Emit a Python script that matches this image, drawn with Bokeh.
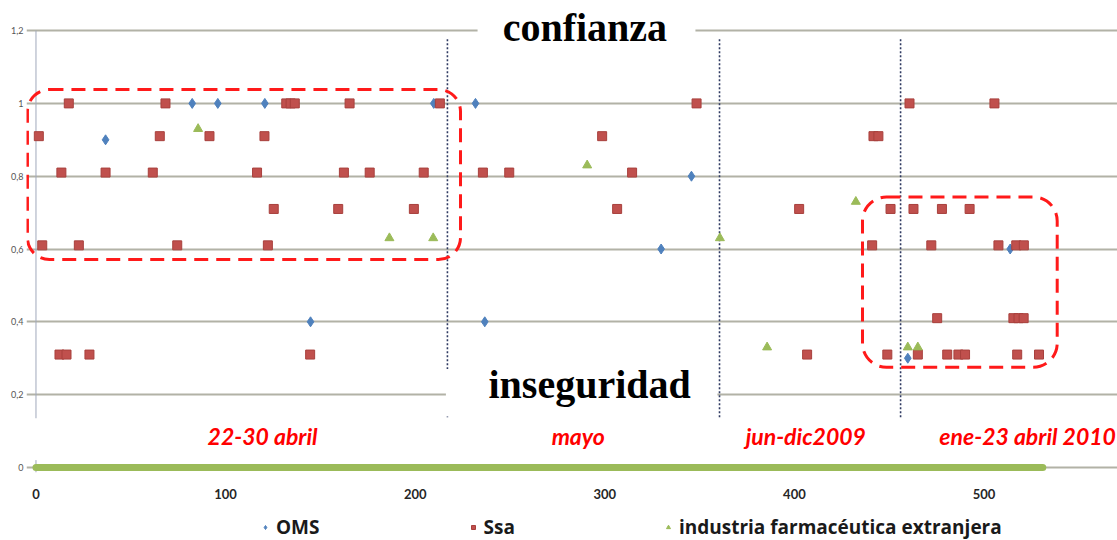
from bokeh.plotting import figure
from bokeh.layouts import column
from bokeh.models import Range1d, FixedTicker, BoxAnnotation, Label, Legend, LegendItem
from bokeh.embed import file_html
from bokeh.resources import INLINE

# ---------------- data ----------------
oms_x = [36.7, 82.4, 95.9, 120.7, 144.8, 209.8, 231.8, 236.7, 329.7, 345.7, 459.8, 513.8]
oms_y = [0.9, 1.0, 1.0, 1.0, 0.4, 1.0, 1.0, 0.4, 0.6, 0.8, 0.3, 0.6]

ssa_x_100 = [17.3, 68.3, 132.0, 134.3, 136.5, 165.4, 213.0, 348.4, 460.7, 505.5]
ssa_x_091 = [1.5, 65.3, 91.5, 120.5, 298.6, 441.7, 444.3]
ssa_x_081 = [13.4, 36.7, 61.6, 116.6, 162.4, 176.0, 204.5, 235.7, 249.6, 314.4]
ssa_x_071 = [125.4, 159.4, 199.3, 306.5, 402.5, 450.7, 462.8, 477.8, 492.4]
ssa_x_061 = [3.3, 22.6, 74.5, 122.3, 441.0, 472.2, 507.6, 517.0, 521.0]
ssa_x_041 = [475.3, 515.5, 518.2, 520.9]
ssa_x_031 = [12.4, 16.1, 28.2, 144.6, 406.7, 449.0, 465.1, 480.6, 486.5, 490.0, 517.5, 529.0]
ssa_x = ssa_x_100 + ssa_x_091 + ssa_x_081 + ssa_x_071 + ssa_x_061 + ssa_x_041 + ssa_x_031
ssa_y = ([1.0] * len(ssa_x_100) + [0.91] * len(ssa_x_091) + [0.81] * len(ssa_x_081)
         + [0.71] * len(ssa_x_071) + [0.61] * len(ssa_x_061) + [0.41] * len(ssa_x_041)
         + [0.31] * len(ssa_x_031))

ind_x = [85.5, 186.4, 209.5, 290.7, 360.7, 385.6, 432.4, 459.8, 465.1]
ind_y = [0.93, 0.63, 0.63, 0.83, 0.63, 0.33, 0.73, 0.33, 0.33]

# all series sit at 0 for the remaining news items (they form the green band)
zero_x = [0, 531]
zero_y = [0, 0]

period_labels = ["22-30 abril", "mayo", "jun-dic2009", "ene-23 abril 2010"]
period_centers = [119.5, 286.0, 406.0, 523.0]
period_bounds = [217.0, 360.5, 456.0]

y_ticks = [0, 0.2, 0.4, 0.6, 0.8, 1.0, 1.2]
y_tick_labels = ["0", "0,2", "0,4", "0,6", "0,8", "1", "1,2"]
x_ticks = [0, 100, 200, 300, 400, 500]

series_names = ["OMS", "Ssa", "industria farmacéutica extranjera"]

BLUE = "#4F81BD"
RED = "#C0504D"
GREEN = "#9BBB59"
FONT = "Lato"

# ---------------- main figure ----------------
p = figure(width=1117, height=505, output_backend="svg", toolbar_location=None,
           x_range=Range1d(-5.0, 570.4), y_range=Range1d(-0.014, 1.2827),
           min_border_left=26, min_border_right=0, min_border_top=0, min_border_bottom=33)
p.outline_line_color = None
p.background_fill_color = "white"
p.border_fill_color = "white"

p.xgrid.visible = False
p.ygrid.ticker = FixedTicker(ticks=y_ticks)
p.ygrid.grid_line_color = "#b2b2a6"
p.ygrid.grid_line_width = 2

p.yaxis.ticker = FixedTicker(ticks=y_ticks)
p.yaxis.major_label_overrides = {t: l for t, l in zip(y_ticks, y_tick_labels)}
p.yaxis.axis_line_color = None
p.yaxis.major_tick_line_color = None
p.yaxis.major_tick_out = 0
p.yaxis.major_tick_in = 0
p.yaxis.minor_tick_line_color = None
p.yaxis.major_label_standoff = 3
p.yaxis.major_label_text_font = FONT
p.yaxis.major_label_text_font_size = "9px"
p.yaxis.major_label_text_color = "#555555"

p.xaxis.ticker = FixedTicker(ticks=x_ticks)
p.xaxis.axis_line_color = None
p.xaxis.major_tick_line_color = None
p.xaxis.major_tick_out = 0
p.xaxis.major_tick_in = 0
p.xaxis.minor_tick_line_color = None
p.xaxis.major_label_standoff = 16
p.xaxis.major_label_text_font = FONT
p.xaxis.major_label_text_font_size = "13px"
p.xaxis.major_label_text_font_style = "bold"
p.xaxis.major_label_text_color = "#262626"

# period separators (dotted)
p.segment(x0=period_bounds, x1=period_bounds, y0=[1.176] * 3, y1=[0.132] * 3,
          line_color="#2f3a62", line_width=1.6, line_dash="2 2")

# white boxes behind the two big words
p.quad(left=[232.9, 216.2], right=[347.8, 359.4], bottom=[1.15, 0.14], top=[1.30, 0.27],
       fill_color="white", line_color=None)

# y axis line (broken where the period labels sit)
p.segment(x0=[0, 0], x1=[0, 0], y0=[0.135, -0.014], y1=[1.2, 0.02],
          line_color="#a0a8bc", line_width=1)

# band of zero values
p.line(zero_x, zero_y, line_color=GREEN, line_width=7, line_cap="round")

marker_styles = [
    dict(marker="diamond", size=10, fill_color=BLUE, line_color=BLUE),
    dict(marker="square", size=9, fill_color=RED, line_color="#a8403d"),
    dict(marker="triangle", size=9, fill_color=GREEN, line_color=GREEN),
]
series_xy = [(oms_x, oms_y), (ssa_x, ssa_y), (ind_x, ind_y)]
for (sx, sy), st in zip(series_xy, marker_styles):
    p.scatter(sx, sy, **st)

# dashed rounded highlight boxes
for l, r, b, t, rad in [(-4.5, 223.9, 0.571, 1.038, 22), (435.9, 538.6, 0.275, 0.743, 24)]:
    p.add_layout(BoxAnnotation(left=l, right=r, bottom=b, top=t,
                               fill_alpha=0, line_color="#ff1a1a", line_alpha=1.0,
                               line_width=3, line_dash="14 8", border_radius=rad))

# big words
p.add_layout(Label(x=289.5, y=1.2085, text="confianza", text_align="center",
                   text_baseline="alphabetic", text_font="Liberation Serif",
                   text_font_style="bold", text_font_size="40px", text_color="black"))
p.add_layout(Label(x=292.0, y=0.2285, text="inseguridad", text_align="center",
                   text_baseline="alphabetic", text_font="Liberation Serif",
                   text_font_style="bold", text_font_size="40px", text_color="black"))

# period labels
for lab, cx in zip(period_labels, period_centers):
    p.add_layout(Label(x=cx, y=0.085, text=lab, text_align="center", text_baseline="middle",
                       text_font=FONT, text_font_style="bold italic", text_font_size="23px",
                       text_color="#ff0000"))

# ---------------- legend strip ----------------
# same series, but this strip's ranges keep them out of view: only the legend shows
lg = figure(width=1117, height=35, output_backend="svg", toolbar_location=None,
            x_axis_location=None, y_axis_location=None, min_border=0,
            x_range=Range1d(-1000, -999), y_range=Range1d(-1000, -999))
lg.outline_line_color = None
lg.grid.visible = False
rs = [lg.scatter(sx, sy, **st) for (sx, sy), st in zip(series_xy, marker_styles)]
legend = Legend(items=[LegendItem(label=n, renderers=[r]) for n, r in zip(series_names, rs)],
                orientation="horizontal", location=(234, 0), spacing=148,
                glyph_width=10, glyph_height=14, label_standoff=6, padding=0, margin=0,
                border_line_color=None, background_fill_alpha=0,
                label_text_font="Open Sans", label_text_font_size="19px",
                label_text_font_style="bold", label_text_color="#1a1a1a")
lg.add_layout(legend)

layout = column(p, lg, spacing=0)
open("out.html", "w").write(file_html(layout, INLINE))
